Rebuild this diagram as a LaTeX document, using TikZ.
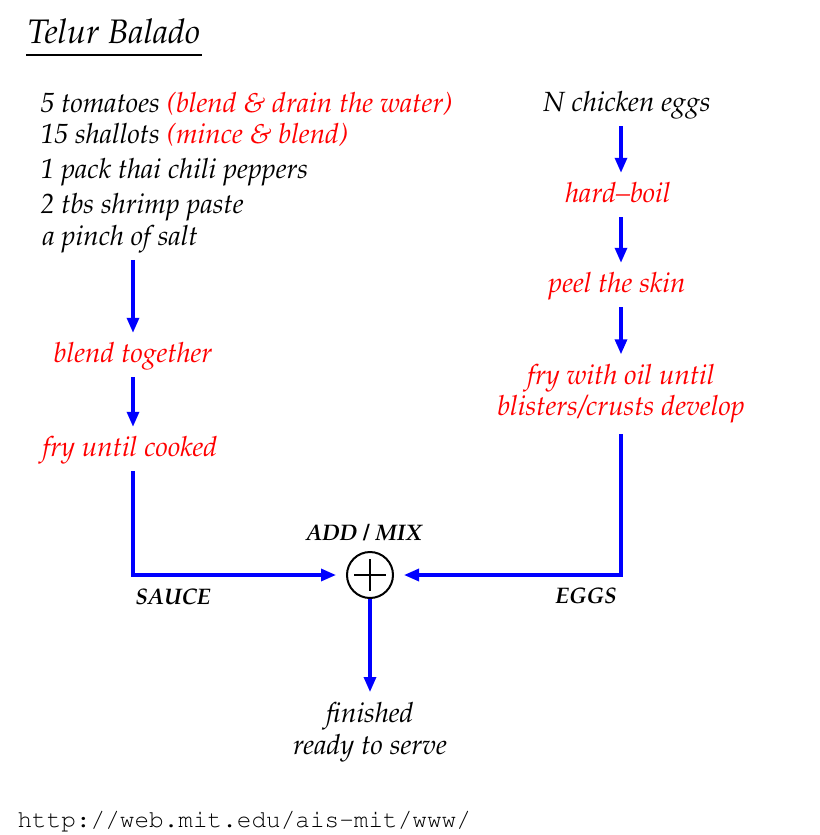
\documentclass[tikz,border=0pt]{standalone}
\usepackage[T1]{fontenc}
\usepackage{mathpazo}
\usepackage{courier}
\usetikzlibrary{arrows.meta}

\begin{document}
\begin{tikzpicture}[x=0.4pt, y=-0.4pt,
	txt/.style={font=\fontsize{11.1}{12.8}\selectfont\itshape, text height=7.7pt, text depth=1.7pt, inner sep=4pt},
	todo/.style={txt, text=red},
	flow/.style={blue, line width=1.3pt, -{Triangle[length=6pt, width=4.8pt]}},
	tag/.style={font=\fontsize{9}{11}\selectfont\bfseries\itshape, inner sep=0pt, anchor=base}]
	\useasboundingbox (0,0) rectangle (820,835);
	% title
	\node[font=\fontsize{13.6}{16}\selectfont\itshape, anchor=base west, inner sep=0pt] (title) at (27,43) {Telur Balado};
	\draw[line width=0.8pt] (26,55) -- (202,55);
	% ingredients
	\node[txt, anchor=base west] (ing1) at (30,112) {5 tomatoes \textcolor{red}{(blend \& drain the water)}};
	\node[txt, anchor=base west] (ing2) at (30,143) {15 shallots \textcolor{red}{(mince \& blend)}};
	\node[txt, anchor=base west] (ing3) at (30,178) {1 pack thai chili peppers};
	\node[txt, anchor=base west] (ing4) at (30,213) {2 tbs shrimp paste};
	\node[txt, anchor=base west] (salt) at (32,245) {a pinch of salt};
	% sauce
	\node[todo] (blend) at (133,355) {blend together};
	\node[todo] (fry) at (130,449) {fry until cooked};
	% eggs
	\node[txt] (eggs) at (627,104) {N chicken eggs};
	\node[todo] (boil) at (618,195) {hard--boil};
	\node[todo] (peel) at (617,285) {peel the skin};
	\node[txt, text=red, align=center, text height=, text depth=, anchor=south,
		font=\fontsize{11.1}{12.4}\selectfont\itshape] (oil) at (621,434)
		{fry with oil until\\blisters/crusts develop};
	% mixing
	\node[circle, draw, line width=0.8pt, minimum size=18.4pt, inner sep=0pt] (mix) at (370,575) {};
	\draw[line width=0.8pt] (mix.center) ++(-16,0) -- ++(32,0) (mix.center) ++(0,-16) -- ++(0,32);
	\node[tag] (addmix) at (364,540) {ADD / MIX};
	\node[tag] (sauce) at (173,604) {SAUCE};
	\node[tag] (egglbl) at (586,603) {EGGS};
	\node[txt, align=center, text height=, text depth=, anchor=north] (done) at (370,692)
		{finished\\ready to serve};
	% arrows
	\draw[flow] (salt.south -| blend) -- (blend);
	\draw[flow] (blend) -- (blend |- fry.north);
	\draw[flow] (eggs.south -| oil) -- (oil |- boil.north);
	\draw[flow] (boil.south -| oil) -- (oil |- peel.north);
	\draw[flow] (peel.south -| oil) -- (oil);
	\draw[flow, shorten >=4pt] (fry.south -| blend) |- (mix.west);
	\draw[flow, shorten >=4pt] (oil.south) |- (mix.east);
	\draw[flow] (mix) -- (done);
	% link
	\node[font=\fontsize{9.75}{12}\selectfont\ttfamily, anchor=base west, inner sep=0pt] (url) at (17,827) {http://web.mit.edu/ais-mit/www/};
\end{tikzpicture}
\end{document}
